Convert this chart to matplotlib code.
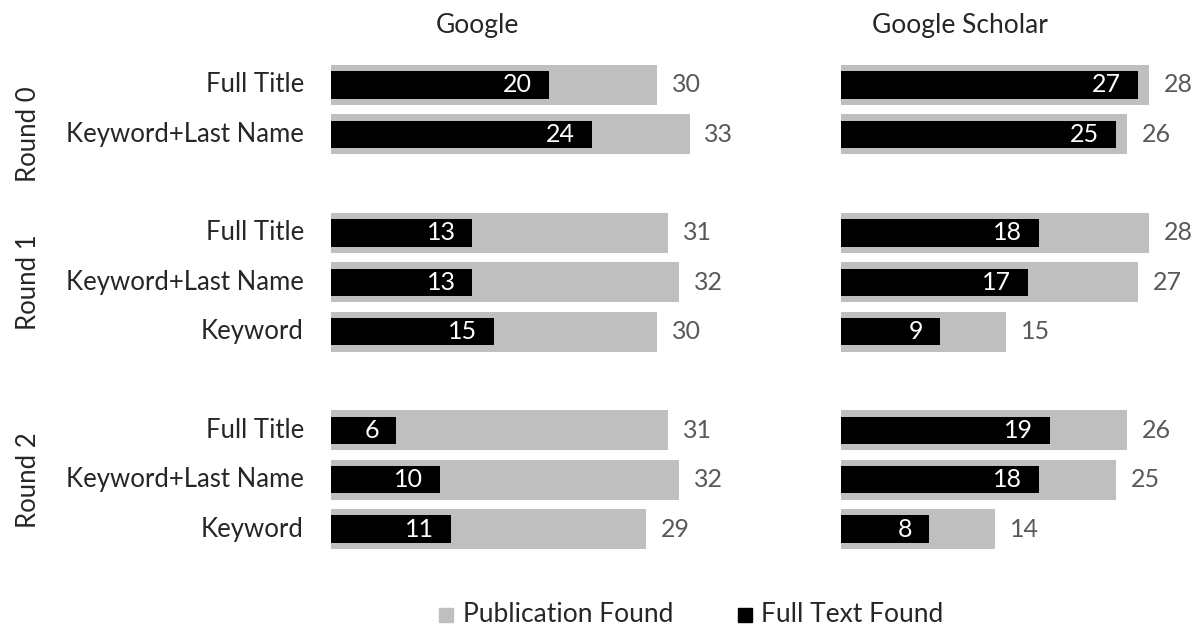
import matplotlib
matplotlib.use("Agg")
import matplotlib.pyplot as plt
from matplotlib.patches import Rectangle

plt.rcParams['font.family'] = ['Lato', 'DejaVu Sans']

rounds = ["Round 0", "Round 1", "Round 2"]
methods = [["Full Title", "Keyword+Last Name"],
           ["Full Title", "Keyword+Last Name", "Keyword"],
           ["Full Title", "Keyword+Last Name", "Keyword"]]
# slots per round in the category axis (Round 0 has an empty "Keyword" slot)
group_sizes = [3, 3, 3]

google_pub = [[30, 33], [31, 32, 30], [31, 32, 29]]
google_full = [[20, 24], [13, 13, 15], [6, 10, 11]]
scholar_pub = [[28, 26], [28, 27, 15], [26, 25, 14]]
scholar_full = [[27, 25], [18, 17, 9], [19, 18, 8]]

panel_titles = ["Google", "Google Scholar"]
legend_labels = ["Publication Found", "Full Text Found"]

GREY = "#BFBFBF"
BLACK = "#000000"
LABEL_C = "#262626"
NUM_C = "#595959"
FS_LAB = 18.5
FS_NUM = 18
FS_TITLE = 19
FS_LEG = 19

# positions: Round 0 occupies slots 0-2 (2 is empty), then each round follows
# with one gap slot between Round 1 and Round 2
positions = []
round_centers = []
starts = [0, 3, 7]
for r, ms in enumerate(methods):
    pos = [starts[r] + i for i in range(len(ms))]
    positions.append(pos)
    round_centers.append(starts[r] + (group_sizes[r] - 1) / 2)

W, H = 1197, 630
fig = plt.figure(figsize=(W / 100, H / 100), dpi=100)

top_px = 60.3
bot_px = 553.7
ax_b = 1 - bot_px / H
ax_h = (bot_px - top_px) / H

ax1 = fig.add_axes([331 / W, ax_b, 435 / W, ax_h])
ax2 = fig.add_axes([841 / W, ax_b, 352 / W, ax_h])
xlims = [40, 32]

for ax, pub, full, xl in [(ax1, google_pub, google_full, xlims[0]),
                          (ax2, scholar_pub, scholar_full, xlims[1])]:
    for r in range(len(rounds)):
        ys = positions[r]
        ax.barh(ys, pub[r], height=0.81, color=GREY, zorder=1)
        ax.barh(ys, full[r], height=0.55, color=BLACK, zorder=2)
        for y, p, f in zip(ys, pub[r], full[r]):
            ax.annotate(str(p), (p, y), xytext=(10.5, 0), textcoords="offset points",
                        ha="left", va="center", color=NUM_C, fontsize=FS_NUM)
            ax.annotate(str(f), (f, y), xytext=(-12, 0), textcoords="offset points",
                        ha="right", va="center", color="white", fontsize=FS_NUM)
    ax.set_xlim(0, xl)
    ax.set_ylim(9.5, -0.5)
    ax.axis("off")

# category labels
for r in range(len(rounds)):
    for y, m in zip(positions[r], methods[r]):
        ax1.annotate(m, (0, y), xytext=(-19.5, 0), textcoords="offset points",
                     ha="right", va="center", color=LABEL_C, fontsize=FS_LAB,
                     annotation_clip=False)
    ax1.annotate(rounds[r], (0, round_centers[r]), xycoords=("figure fraction", "data"),
                 xytext=(29 / W, 0), textcoords=("figure fraction", "offset points"),
                 ha="center", va="center", rotation=90, color=LABEL_C, fontsize=FS_LAB,
                 annotation_clip=False)

fig.text(477 / W, 1 - 26 / H, panel_titles[0], ha="center", va="center",
         color=LABEL_C, fontsize=FS_TITLE)
fig.text(960 / W, 1 - 26 / H, panel_titles[1], ha="center", va="center",
         color=LABEL_C, fontsize=FS_TITLE)

# legend
ly = 1 - 615 / H
sq = 14
fig.patches.append(Rectangle((439 / W, ly - sq / 2 / H), sq / W, sq / H,
                             transform=fig.transFigure, color=GREY))
fig.text(463 / W, ly, legend_labels[0], ha="left", va="center", color=LABEL_C, fontsize=FS_LEG)
fig.patches.append(Rectangle((738 / W, ly - sq / 2 / H), sq / W, sq / H,
                             transform=fig.transFigure, color=BLACK))
fig.text(761 / W, ly, legend_labels[1], ha="left", va="center", color=LABEL_C, fontsize=FS_LEG)

fig.savefig("out.png", dpi=100, facecolor="white")
